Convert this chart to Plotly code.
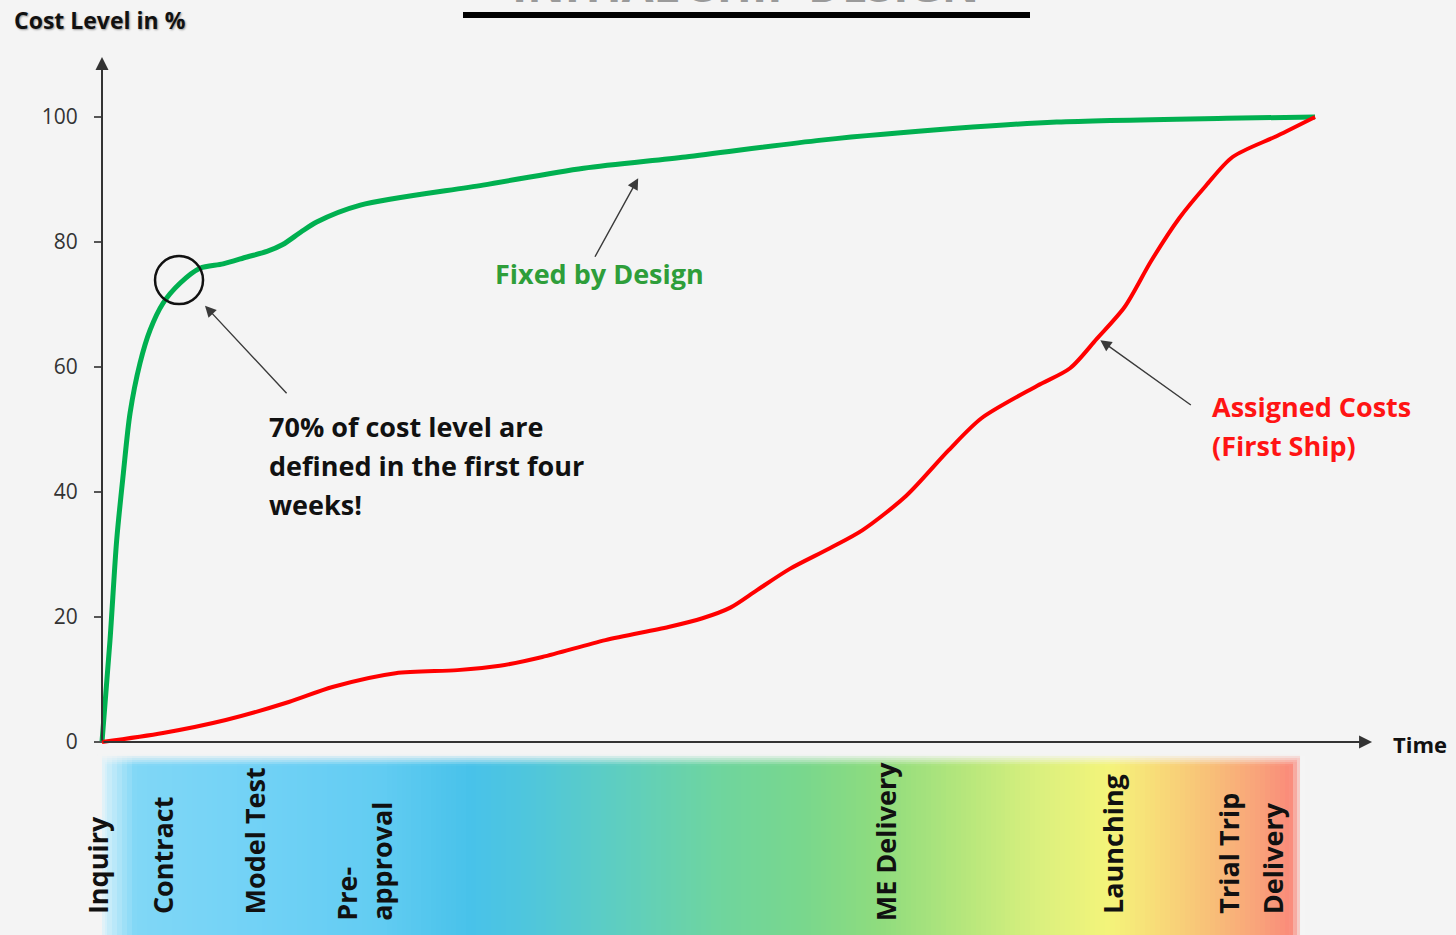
import numpy as np
import plotly.graph_objects as go

# ---- data -------------------------------------------------------------
# time axis in relative units (0 = inquiry, 100 = delivery)
fixed_x = [0, 0.66, 1.21, 1.76, 2.31, 3.13, 3.96, 5.03, 6.43, 8.08, 9.98, 11.95,
           13.6, 14.9, 16.4, 17.7, 21.3, 31.4, 39.7, 48.1, 59.3, 70.4, 78.7, 92.7, 100]
fixed_y = [0, 16.3, 32.3, 43.0, 52.6, 60.6, 65.9, 70.2, 73.4, 75.8, 76.5, 77.6,
           78.5, 79.6, 81.6, 83.2, 85.9, 89.1, 91.8, 93.6, 96.3, 98.2, 99.2, 99.8, 100]

assigned_x = [0, 5.03, 10.2, 15.4, 19.0, 24.2, 29.3, 32.8, 36.3, 41.5, 46.7, 49.5,
              51.8, 54.0, 56.7, 60.0, 62.7, 66.3, 69.8, 72.5, 77.1, 79.8, 82.0,
              84.3, 86.5, 88.8, 91.0, 93.2, 96.9, 100]
assigned_y = [0, 1.44, 3.52, 6.4, 8.8, 11.0, 11.5, 12.2, 13.6, 16.3, 18.4, 19.8,
              21.5, 24.3, 27.7, 31.0, 33.9, 39.4, 46.7, 51.8, 57.0, 59.8, 64.5,
              69.6, 77.0, 83.8, 89.0, 93.6, 97.0, 100]

y_ticks = [0, 20, 40, 60, 80, 100]

milestones = ["Inquiry", "Contract", "Model Test", "Pre-<br>approval",
              "ME Delivery", "Launching", "Trial Trip", "Delivery"]
milestone_x = [-0.41, 4.95, 12.61, 21.6, 64.55, 83.26, 92.83, 96.46]
milestone_base = [-27.85, -27.85, -27.85, -29.0, -29.0, -27.85, -27.85, -27.85]

note_lines = ["70% of cost level are", "defined in the first four", "weeks!"]
assigned_lines = ["Assigned Costs", "(First Ship)"]

# highlighted point on the design curve (first four weeks)
focus_x, focus_y = 6.35, 73.9

# ---- styling ----------------------------------------------------------
BG = "#f4f4f4"
FONT = "Open Sans"
X_RANGE = [-8.409, 111.62]
Y_RANGE = [-30.88, 118.72]
BAND_X = [0.0, 98.8]
BAND_Y = [-31.5, -2.0]
LINE_STEP = 6.24  # vertical distance between callout lines, in axis units

band_stops = [
    (0.000, "#dcf2fa"), (0.028, "#80d7f6"), (0.124, "#72d2f6"),
    (0.232, "#62ccf2"), (0.307, "#48c2ea"), (0.357, "#4fc6dc"),
    (0.432, "#5ecec0"), (0.516, "#6fd59e"), (0.583, "#78d78e"),
    (0.649, "#8fdc7e"), (0.716, "#b4e67c"), (0.783, "#daf07e"),
    (0.841, "#f4f47a"), (0.883, "#f8da78"), (0.924, "#f8c078"),
    (0.966, "#f9a27a"), (1.000, "#fa847a"),
]

fig = go.Figure()

# coloured project-phase band below the time axis (cell edges given)
n_cols = 240
bx_edges = np.linspace(BAND_X[0], BAND_X[1], n_cols + 1)
bx_mid = 0.5 * (bx_edges[:-1] + bx_edges[1:])
fig.add_trace(go.Heatmap(
    x=bx_edges, y=[BAND_Y[0], 0.5 * (BAND_Y[0] + BAND_Y[1]), BAND_Y[1]],
    z=[list(bx_mid), list(bx_mid)],
    colorscale=[[f, c] for f, c in band_stops],
    zmin=BAND_X[0], zmax=BAND_X[1],
    showscale=False, hoverinfo="skip",
))

# soft edges of the band (background colour fading in)
fx_edges = np.linspace(BAND_X[0] - 0.4, BAND_X[1] + 0.4, 300)
fy_edges = np.linspace(BAND_Y[0], BAND_Y[1] + 0.1, 90)
fx = 0.5 * (fx_edges[:-1] + fx_edges[1:])
fy = 0.5 * (fy_edges[:-1] + fy_edges[1:])
FX, FY = np.meshgrid(fx, fy)
top = np.clip((FY - (BAND_Y[1] - 1.8)) / 1.8, 0, 1)
right = np.clip((FX - (BAND_X[1] - 0.8)) / 1.1, 0, 1)
left = np.clip(((BAND_X[0] + 0.4) - FX) / 0.8, 0, 1)
fade = np.maximum(np.maximum(top, right), left)
fig.add_trace(go.Heatmap(
    x=fx_edges, y=fy_edges, z=fade,
    colorscale=[[0, "rgba(244,244,244,0)"], [1, "rgba(244,244,244,1)"]],
    zmin=0, zmax=1, showscale=False, hoverinfo="skip",
))

# the two cost curves
fig.add_trace(go.Scatter(
    x=fixed_x, y=fixed_y, mode="lines",
    line=dict(color="#00b050", width=5, shape="spline", smoothing=0.8),
    hoverinfo="skip", showlegend=False,
))
fig.add_trace(go.Scatter(
    x=assigned_x, y=assigned_y, mode="lines",
    line=dict(color="#ff0000", width=4, shape="spline", smoothing=0.8),
    hoverinfo="skip", showlegend=False,
))

annotations = []

# axis arrows
annotations.append(dict(x=0, y=109.6, ax=0, ay=0, axref="x", ayref="y",
                        xref="x", yref="y", showarrow=True, arrowhead=2,
                        arrowsize=1.3, arrowwidth=2, arrowcolor="#333333", text=""))
annotations.append(dict(x=104.7, y=0, ax=0, ay=0, axref="x", ayref="y",
                        xref="x", yref="y", showarrow=True, arrowhead=2,
                        arrowsize=1.3, arrowwidth=2, arrowcolor="#333333", text=""))

annotations.append(dict(x=106.3, y=-0.3, xref="x", yref="y", text="<b>Time</b>",
                        showarrow=False, xanchor="left", yanchor="middle",
                        font=dict(family=FONT, size=22, color="#111111")))
annotations.append(dict(x=-7.42, y=115.6, xref="x", yref="y",
                        text="<b>Cost Level in %</b>", showarrow=False,
                        xanchor="left", yanchor="middle",
                        font=dict(family=FONT, size=23, color="#111111",
                                  shadow="1px 1px 2px #9a9a9a")))

# heading (runs off the top edge of the page)
annotations.append(dict(x=0.512, y=1.0, xref="paper", yref="paper",
                        text="<b>INITIAL SHIP DESIGN</b>", showarrow=False,
                        xanchor="center", yanchor="bottom", yshift=-17,
                        font=dict(family=FONT, size=46, color="#9a9a9a")))

# callouts
arrow_style = dict(showarrow=True, arrowhead=2, arrowsize=1.6, arrowwidth=1.4,
                   arrowcolor="#3a3a3a", xref="x", yref="y", text="")
annotations.append(dict(x=8.49, y=69.8, ax=83, ay=89, **arrow_style))
annotations.append(dict(x=44.2, y=90.2, ax=-44, ay=80, **arrow_style))
annotations.append(dict(x=82.3, y=64.3, ax=92, ay=66, **arrow_style))

for i, line in enumerate(note_lines):
    annotations.append(dict(x=13.6, y=50.5 - i * LINE_STEP, xref="x", yref="y",
                            text=f"<b>{line}</b>", showarrow=False,
                            xanchor="left", yanchor="middle",
                            font=dict(family=FONT, size=27, color="#111111")))
annotations.append(dict(x=41.05, y=75.0, xref="x", yref="y",
                        text="<b>Fixed by Design</b>", showarrow=False,
                        xanchor="center", yanchor="middle",
                        font=dict(family=FONT, size=27, color="#2e9e3a")))
for i, line in enumerate(assigned_lines):
    annotations.append(dict(x=91.34, y=53.7 - i * LINE_STEP, xref="x", yref="y",
                            text=f"<b>{line}</b>", showarrow=False,
                            xanchor="left", yanchor="middle",
                            font=dict(family=FONT, size=27, color="#ff1414")))

# milestone labels along the band
for name, mx, mb in zip(milestones, milestone_x, milestone_base):
    annotations.append(dict(x=mx, y=mb, xref="x", yref="y", text=f"<b>{name}</b>",
                            showarrow=False, textangle=-90, xanchor="center",
                            yanchor="bottom", align="left",
                            font=dict(family=FONT, size=27, color="#111111")))

shapes = [
    # circle around the point where ~70 % is fixed
    dict(type="circle", xref="x", yref="y", xsizemode="pixel", ysizemode="pixel",
         xanchor=focus_x, yanchor=focus_y, x0=-24, x1=24, y0=-24, y1=24,
         line=dict(color="#111111", width=2.5)),
    # heading underline
    dict(type="line", xref="paper", yref="paper", x0=463 / 1456, x1=1030 / 1456,
         y0=1 - 15 / 935, y1=1 - 15 / 935, line=dict(color="#000000", width=6)),
]

fig.update_layout(
    width=1456, height=935,
    margin=dict(l=0, r=0, t=0, b=0, pad=0),
    paper_bgcolor=BG, plot_bgcolor=BG,
    showlegend=False,
    font=dict(family=FONT),
    annotations=annotations,
    shapes=shapes,
    xaxis=dict(range=X_RANGE, visible=False, fixedrange=True),
    yaxis=dict(range=Y_RANGE, anchor="free", position=102 / 1456,
               tickvals=y_ticks, ticktext=[str(v) for v in y_ticks],
               ticks="outside", ticklen=8, tickwidth=2, tickcolor="#555555",
               ticklabelstandoff=12,
               tickfont=dict(family=FONT, size=21, color="#333333"),
               showgrid=False, zeroline=False, showline=False, fixedrange=True),
)

fig.write_html("out.html")
